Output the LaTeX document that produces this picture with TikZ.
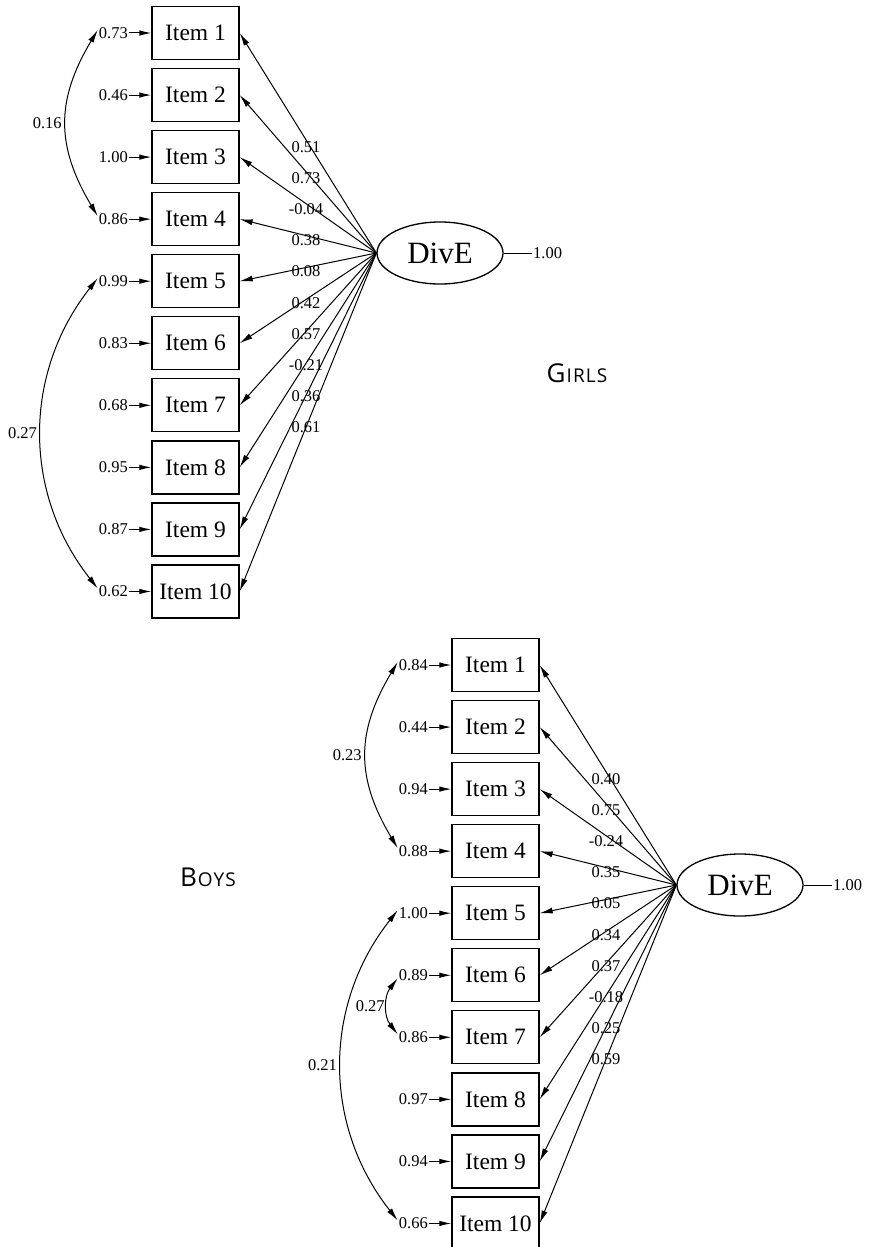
\documentclass[tikz,border=0pt]{standalone}
\usepackage{fontspec}
\setmainfont{Liberation Serif}
\newfontfamily\grpfont{Open Sans}
\usetikzlibrary{arrows.meta,shapes.geometric}
\newcommand\myitemfont{\fontsize{23.5}{23.5}\selectfont}
\newcommand\mylatfont{\fontsize{31}{31}\selectfont}
\newcommand\mynumfont{\fontsize{16.5}{16.5}\selectfont}
\newcommand\mygrp[2]{\grpfont\fontsize{26}{26}\selectfont #1\kern1pt\fontsize{19}{19}\selectfont\addfontfeature{LetterSpace=6}#2}
\tikzset{
  itembox/.style={draw, line width=1.3pt, minimum width=87pt, minimum height=53pt, inner sep=0pt, font=\myitemfont},
  latent/.style={draw, ellipse, line width=1.3pt, minimum width=126pt, minimum height=62pt, inner sep=0pt, font=\mylatfont},
  num/.style={inner sep=1pt, font=\mynumfont},
  load/.style={-{Latex[length=13pt,width=6pt]}, line width=1pt},
  errarrow/.style={-{Latex[length=12pt,width=5.5pt]}, line width=1pt},
  cov/.style={{Latex[length=13pt,width=6pt]}-{Latex[length=13pt,width=6pt]}, line width=1pt},
  plainline/.style={line width=1pt},
  grp/.style={inner sep=0pt}
}
\begin{document}
\begin{tikzpicture}[x=1pt,y=-1pt]
\path[use as bounding box, fill=white] (0,0) rectangle (870,1247);

% ---------------- GIRLS ----------------
\node[latent] (g) at (440,253) {DivE};
\node[num, anchor=west] (gv) at (532,253) {1.00};
\draw[plainline] (g.east) -- (gv.west);
\foreach \i/\ev/\ld in {1/0.73/0.51, 2/0.46/0.73, 3/1.00/-0.04, 4/0.86/0.38, 5/0.99/0.08, 6/0.83/0.42, 7/0.68/0.57, 8/0.95/-0.21, 9/0.87/0.36, 10/0.62/0.61}{
  \node[itembox] (gi\i) at (195.5,{33+62.05*(\i-1)}) {Item \i};
  \node[num, anchor=east] (ge\i) at (129,{33+62.05*(\i-1)}) {\ev};
  \draw[errarrow] (ge\i.east) -- (gi\i.west);
  \draw[load] (g.west) -- node[num, pos=0.515, yshift={-(7-0.75*(\i-1))*1pt}] {\ld} (gi\i.east);
}
\draw[cov] ([yshift=3pt]ge1.west) .. controls +(-42,70) and +(-42,-70) .. node[num, pos=0.5, left=3pt] {0.16} ([yshift=3pt]ge4.west);
\draw[cov] ([yshift=3pt]ge5.west) .. controls +(-75,95) and +(-75,-95) .. node[num, pos=0.5, left=3pt] {0.27} ([yshift=3pt]ge10.west);
\node[grp] (girls) at (577,373) {\mygrp{G}{IRLS}};

% ---------------- BOYS ----------------
\node[latent] (b) at (740,885) {DivE};
\node[num, anchor=west] (bv) at (832,885) {1.00};
\draw[plainline] (b.east) -- (bv.west);
\foreach \i/\ev/\ld in {1/0.84/0.40, 2/0.44/0.75, 3/0.94/-0.24, 4/0.88/0.35, 5/1.00/0.05, 6/0.89/0.34, 7/0.86/0.37, 8/0.97/-0.18, 9/0.94/0.25, 10/0.66/0.59}{
  \node[itembox] (bi\i) at (495.5,{665+62.05*(\i-1)}) {Item \i};
  \node[num, anchor=east] (be\i) at (429,{665+62.05*(\i-1)}) {\ev};
  \draw[errarrow] (be\i.east) -- (bi\i.west);
  \draw[load] (b.west) -- node[num, pos=0.515, yshift={-(7-0.75*(\i-1))*1pt}] {\ld} (bi\i.east);
}
\draw[cov] ([yshift=3pt]be1.west) .. controls +(-42,70) and +(-42,-70) .. node[num, pos=0.5, left=3pt] {0.23} ([yshift=3pt]be4.west);
\draw[cov] ([yshift=3pt]be5.west) .. controls +(-75,95) and +(-75,-95) .. node[num, pos=0.5, left=3pt] {0.21} ([yshift=3pt]be10.west);
\draw[cov] ([yshift=-3pt]be6.west) .. controls +(-14,18) and +(-14,-18) .. node[num, pos=0.5, left=1pt] {0.27} ([yshift=3pt]be7.west);
\node[grp] (boys) at (208,877) {\mygrp{B}{OYS}};
\end{tikzpicture}
\end{document}
